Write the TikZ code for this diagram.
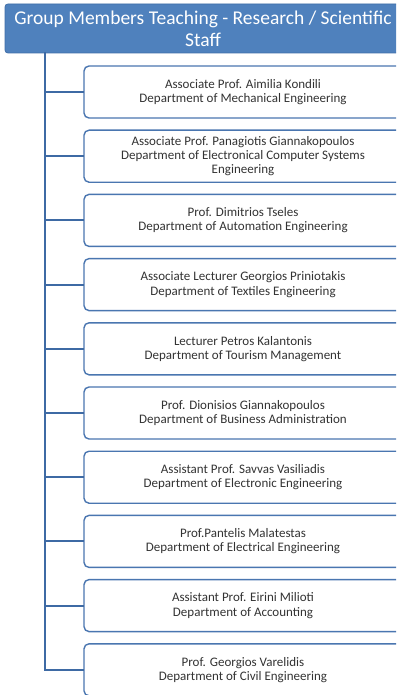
\documentclass[tikz,border=0pt]{standalone}
\usepackage{fontspec}
\setmainfont{Carlito}
\definecolor{hdrfill}{HTML}{4F81BD}
\definecolor{hdrline}{HTML}{3F6EA8}
\definecolor{boxline}{HTML}{4A76B0}
\definecolor{linkline}{HTML}{3E6AA4}
\definecolor{txt}{HTML}{333333}
\begin{document}
\begin{tikzpicture}[x=1pt,y=-1pt,
  header/.style={draw=hdrline, fill=hdrfill, line width=0.8pt, rounded corners=3pt,
    text=white, align=center, minimum width=396pt, minimum height=49pt,
    inner sep=0pt, font=\fontsize{19.5}{22}\selectfont},
  member/.style={text=txt, align=center, minimum width=318pt, minimum height=52pt,
    inner sep=0pt, font=\fontsize{13}{14.2}\selectfont},
  frame/.style={draw=boxline, fill=white, line width=1.4pt, rounded corners=5pt},
  link/.style={draw=linkline, line width=2pt}]
\clip (0,0) rectangle (396,695);
\fill[white] (0,0) rectangle (396,695);
\useasboundingbox (0,0) rectangle (396,695);

\node[header] (header) at (203,28.5) {Group Members Teaching - Research / Scientific\\Staff};

% frames run off the right edge of the sheet
\foreach \y in {92,156.2,220.4,284.6,348.8,413,477.2,541.4,605.6,669.8}
  \draw[frame] (84,\y-26) rectangle (430,\y+26);

\node[member] (m1)  at (243,92)    {Associate Prof. Aimilia Kondili\\Department of Mechanical Engineering};
\node[member] (m2)  at (243,156.2) {Associate Prof. Panagiotis Giannakopoulos\\Department of Electronical Computer Systems\\Engineering};
\node[member] (m3)  at (243,220.4) {Prof. Dimitrios Tseles\\Department of Automation Engineering};
\node[member] (m4)  at (243,284.6) {Associate Lecturer Georgios Priniotakis\\Department of Textiles Engineering};
\node[member] (m5)  at (243,348.8) {Lecturer Petros Kalantonis\\Department of Tourism Management};
\node[member] (m6)  at (243,413)   {Prof. Dionisios Giannakopoulos\\Department of Business Administration};
\node[member] (m7)  at (243,477.2) {Assistant Prof. Savvas Vasiliadis\\Department of Electronic Engineering};
\node[member] (m8)  at (243,541.4) {Prof.Pantelis Malatestas\\Department of Electrical Engineering};
\node[member] (m9)  at (243,605.6) {Assistant Prof. Eirini Milioti\\Department of Accounting};
\node[member] (m10) at (243,669.8) {Prof. Georgios Varelidis\\Department of Civil Engineering};

% vertical trunk below the header and one branch per member
\coordinate (trunk) at (45,52);
\draw[link] (trunk) |- (m10.west);
\foreach \m in {m1,m2,m3,m4,m5,m6,m7,m8,m9}
  \draw[link] (trunk |- \m.west) -- (\m.west);
\end{tikzpicture}
\end{document}
